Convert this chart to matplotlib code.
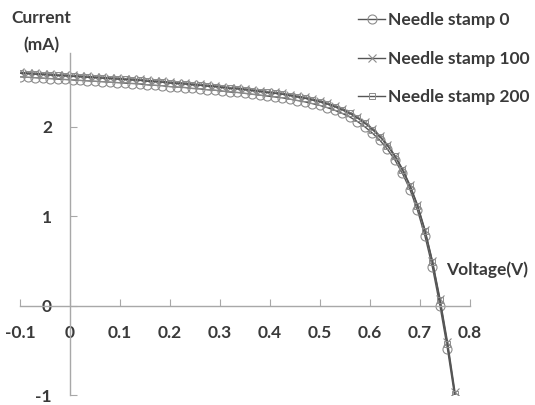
import matplotlib.pyplot as plt

# voltage points (V), shared by the three curves
voltage = [-0.1, -0.085, -0.07, -0.055, -0.04, -0.025, -0.01, 0.005, 0.02, 0.035,
           0.05, 0.065, 0.08, 0.095, 0.11, 0.125, 0.14, 0.155, 0.17, 0.185,
           0.2, 0.215, 0.23, 0.245, 0.26, 0.275, 0.29, 0.305, 0.32, 0.335,
           0.35, 0.365, 0.38, 0.395, 0.41, 0.425, 0.44, 0.455, 0.47, 0.485,
           0.5, 0.515, 0.53, 0.545, 0.56, 0.575, 0.59, 0.605, 0.62, 0.635,
           0.65, 0.665, 0.68, 0.695, 0.71, 0.725, 0.74, 0.755, 0.77]

# current (mA) for each needle stamp
stamp0 = [2.56, 2.555, 2.55, 2.545, 2.54, 2.535, 2.53, 2.525, 2.52, 2.515,
          2.51, 2.505, 2.50, 2.495, 2.49, 2.485, 2.48, 2.47, 2.465, 2.46,
          2.45, 2.445, 2.44, 2.43, 2.425, 2.415, 2.41, 2.40, 2.39, 2.385,
          2.375, 2.365, 2.355, 2.345, 2.335, 2.325, 2.31, 2.295, 2.28, 2.26,
          2.24, 2.215, 2.185, 2.15, 2.11, 2.06, 2.00, 1.93, 1.85, 1.75,
          1.63, 1.48, 1.30, 1.07, 0.78, 0.43, 0.0, -0.48, -1.03]
stamp100 = [2.61, 2.605, 2.60, 2.595, 2.59, 2.585, 2.58, 2.575, 2.57, 2.565,
            2.56, 2.555, 2.55, 2.545, 2.54, 2.535, 2.53, 2.52, 2.515, 2.51,
            2.50, 2.495, 2.49, 2.48, 2.475, 2.465, 2.46, 2.45, 2.44, 2.435,
            2.425, 2.415, 2.405, 2.395, 2.385, 2.375, 2.36, 2.345, 2.33, 2.31,
            2.29, 2.265, 2.235, 2.20, 2.16, 2.11, 2.05, 1.98, 1.90, 1.80,
            1.68, 1.53, 1.35, 1.13, 0.85, 0.50, 0.08, -0.40, -0.96]
stamp200 = [2.60, 2.595, 2.59, 2.585, 2.58, 2.575, 2.57, 2.565, 2.56, 2.555,
            2.55, 2.545, 2.54, 2.535, 2.53, 2.525, 2.52, 2.51, 2.505, 2.50,
            2.49, 2.485, 2.48, 2.47, 2.465, 2.455, 2.45, 2.44, 2.43, 2.425,
            2.415, 2.405, 2.395, 2.385, 2.375, 2.365, 2.35, 2.335, 2.32, 2.30,
            2.28, 2.255, 2.225, 2.19, 2.15, 2.10, 2.04, 1.97, 1.89, 1.79,
            1.67, 1.52, 1.34, 1.12, 0.84, 0.49, 0.06, -0.43, -0.99]

labels = ["Needle stamp 0", "Needle stamp 100", "Needle stamp 200"]
xticks = [-0.1, 0, 0.1, 0.2, 0.3, 0.4, 0.5, 0.6, 0.7, 0.8]
xticklabels = ["-0.1", "0", "0.1", "0.2", "0.3", "0.4", "0.5", "0.6", "0.7", "0.8"]
yticks = [-1, 0, 1, 2]
yticklabels = ["-1", "0", "1", "2"]

plt.rcParams['font.family'] = ['Lato', 'DejaVu Sans']
txt = "#3a3a3a"
fs = 12.5

fig = plt.figure(figsize=(5.35, 4.05), dpi=100)
ax = fig.add_axes([0.0374, 0.024, 0.841, 0.846])

line_c = "#555555"
mark_c = "#8c8c8c"
ax.plot(voltage, stamp0, color=line_c, lw=1.0, marker="o", ms=6.5, mfc="none",
        mec=mark_c, mew=0.8, label=labels[0])
ax.plot(voltage, stamp100, color=line_c, lw=1.0, marker="x", ms=5.5,
        mec=mark_c, mew=0.8, label=labels[1])
ax.plot(voltage, stamp200, color=line_c, lw=1.0, marker="s", ms=4.5, mfc="none",
        mec=mark_c, mew=0.7, label=labels[2])

ax.set_xlim(-0.1, 0.8)
ax.set_ylim(-1, 2.83)

for s in ["top", "right"]:
    ax.spines[s].set_visible(False)
ax.spines["left"].set_position(("data", 0))
ax.spines["bottom"].set_position(("data", 0))
for s in ["left", "bottom"]:
    ax.spines[s].set_color("#a8a8a8")
    ax.spines[s].set_linewidth(1.0)

ax.set_xticks(xticks)
ax.set_xticklabels(xticklabels)
ax.set_yticks(yticks)
ax.set_yticklabels(yticklabels)
ax.tick_params(axis="x", direction="in", length=5, color="#a8a8a8", pad=14,
               labelsize=fs, labelcolor=txt)
ax.tick_params(axis="y", direction="in", length=5, color="#a8a8a8", pad=13,
               labelsize=fs, labelcolor=txt)
for t in ax.get_xticklabels() + ax.get_yticklabels():
    t.set_fontweight("bold")

leg = ax.legend(loc="upper left", bbox_to_anchor=(0.647, 1.0), bbox_transform=fig.transFigure,
                frameon=False, fontsize=fs, handlelength=1.55, handletextpad=0.15,
                labelspacing=1.3, borderaxespad=0.3)
for t in leg.get_texts():
    t.set_color(txt)
    t.set_fontweight("bold")

fig.text(0.078, 0.955, "Current", ha="center", va="center", fontsize=fs,
         color=txt, fontweight="bold")
fig.text(0.078, 0.888, "(mA)", ha="center", va="center", fontsize=fs,
         color=txt, fontweight="bold")
fig.text(0.91, 0.333, "Voltage(V)", ha="center", va="center", fontsize=fs,
         color=txt, fontweight="bold")

fig.savefig("out.png", dpi=100)
